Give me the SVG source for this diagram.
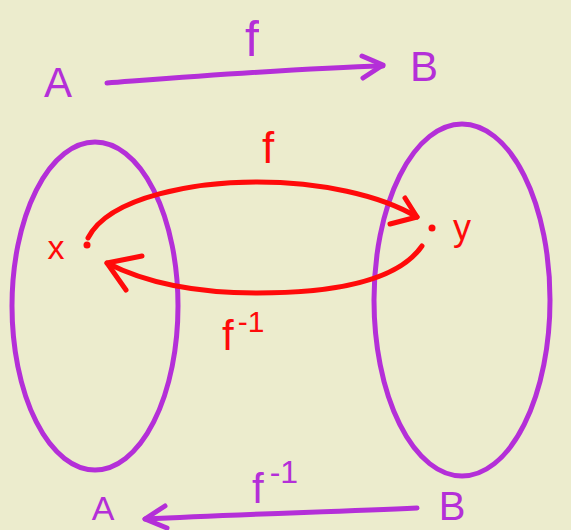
<svg xmlns="http://www.w3.org/2000/svg" width="571" height="530" viewBox="0 0 571 530">
<style>
.p{fill:none;stroke:#B42FD8;stroke-width:5;stroke-linecap:round;stroke-linejoin:round}
.r{fill:none;stroke:#FF0A0A;stroke-width:5;stroke-linecap:round;stroke-linejoin:round}
.tp{fill:#B42FD8;font-family:"Liberation Sans",Arial,sans-serif}
.tr{fill:#FF0A0A;font-family:"Liberation Sans",Arial,sans-serif}
</style>
<rect width="571" height="530" fill="#ECECCD"/>
<g id="setA">
<ellipse class="p" cx="95" cy="306" rx="83" ry="164"/>
</g>
<g id="setB">
<ellipse class="p" cx="462" cy="300" rx="88" ry="176"/>
</g>
<g id="topA"><text class="tp" x="58" y="97" font-size="42" text-anchor="middle">A</text></g>
<g id="topB"><text class="tp" x="424" y="81" font-size="42" text-anchor="middle">B</text></g>
<g id="botA"><text class="tp" x="103" y="520" font-size="34" text-anchor="middle">A</text></g>
<g id="botB"><text class="tp" x="452" y="520" font-size="40" text-anchor="middle">B</text></g>
<g id="pointX">
<circle cx="87" cy="245" r="3.5" fill="#FF0A0A"/>
<text class="tr" x="56" y="259" font-size="34" text-anchor="middle">x</text>
</g>
<g id="pointY">
<circle cx="432" cy="228" r="3.5" fill="#FF0A0A"/>
<text class="tr" x="462" y="240" font-size="36" text-anchor="middle">y</text>
</g>
<g id="connectors">
<path class="p" d="M107,83 C200,76 300,68 383,66"/>
<path class="p" d="M362,56 L383,65 L363,78"/>
<path class="p" d="M417,508 C330,512 240,514 145,519"/>
<path class="p" d="M165,506 L145,519 L167,528"/>
<path class="r" d="M88,238 C110,195 200,182 257,182 C320,182 380,195 417,217"/>
<path class="r" d="M405,198 L417,217 L390,224"/>
<path class="r" d="M422,246 C395,285 320,293 257,293 C190,293 140,280 107,263"/>
<path class="r" d="M142,256 L107,263 L126,290"/>
<text class="tp" x="252" y="56" font-size="50" text-anchor="middle">f</text>
<text class="tp" x="252" y="503" font-size="42">f<tspan dx="6" dy="-20" font-size="32">-1</tspan></text>
<text class="tr" x="268" y="163" font-size="44" text-anchor="middle">f</text>
<text class="tr" x="222" y="350" font-size="42">f<tspan dx="4" dy="-18" font-size="30">-1</tspan></text>
</g>
</svg>
